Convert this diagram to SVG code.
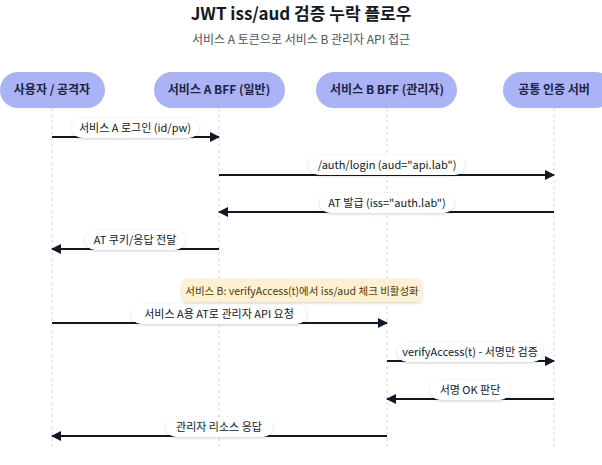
<svg xmlns="http://www.w3.org/2000/svg" width="602" height="465" viewBox="0 0 602 465">
<defs>
<marker id="ah" markerWidth="10" markerHeight="10" refX="9" refY="5" orient="auto" markerUnits="userSpaceOnUse"><path d="M0,0 L10,5 L0,10 z" fill="#111827"/></marker>
<filter id="sh" x="-20%" y="-50%" width="140%" height="200%"><feDropShadow dx="0" dy="1" stdDeviation="1.5" flood-color="#000" flood-opacity="0.18"/></filter>
<style>
text{font-family:"Noto Sans CJK KR","Noto Sans",sans-serif;}
.head rect{fill:#aab3f5;}
.head text{font-size:12px;font-weight:bold;fill:#1f2340;text-anchor:middle;}
.life{stroke:#d1d5db;stroke-dasharray:3 3;stroke-width:1;}
.msg{stroke:#111827;stroke-width:2;fill:none;marker-end:url(#ah);}
.lbl rect{fill:#fff;filter:url(#sh);}
.lbl text{font-size:11px;fill:#111827;text-anchor:middle;}
</style>
</defs>
<rect width="602" height="465" fill="#fff"/>
<text x="301" y="20" font-size="17" font-weight="bold" text-anchor="middle" fill="#111827">JWT iss/aud 검증 누락 플로우</text>
<text x="301" y="44" font-size="12" text-anchor="middle" fill="#4b5563">서비스 A 토큰으로 서비스 B 관리자 API 접근</text>
<g id="lifelines">
<line class="life" x1="52" y1="108" x2="52" y2="450"/>
<line class="life" x1="219" y1="108" x2="219" y2="450"/>
<line class="life" x1="387" y1="108" x2="387" y2="450"/>
<line class="life" x1="554" y1="108" x2="554" y2="450"/>
</g>
<g id="n1" class="head"><rect x="0" y="72" width="105" height="36" rx="18"/><text x="52" y="94">사용자 / 공격자</text></g>
<g id="n2" class="head"><rect x="154" y="72" width="131" height="36" rx="18"/><text x="219" y="94">서비스 A BFF (일반)</text></g>
<g id="n3" class="head"><rect x="316" y="72" width="141" height="36" rx="18"/><text x="387" y="94">서비스 B BFF (관리자)</text></g>
<g id="n4" class="head"><rect x="503" y="72" width="110" height="36" rx="18"/><text x="554" y="94">공통 인증 서버</text></g>
<g id="connectors">
<line class="msg" x1="52" y1="137" x2="219" y2="137"/>
<line class="msg" x1="219" y1="175" x2="554" y2="175"/>
<line class="msg" x1="554" y1="212" x2="219" y2="212"/>
<line class="msg" x1="219" y1="249" x2="52" y2="249"/>
<line class="msg" x1="52" y1="323" x2="387" y2="323"/>
<line class="msg" x1="387" y1="361" x2="554" y2="361"/>
<line class="msg" x1="554" y1="399" x2="387" y2="399"/>
<line class="msg" x1="387" y1="436" x2="52" y2="436"/>
</g>
<g id="labels" class="lbl">
<rect x="72" y="118" width="127" height="20" rx="10"/><text x="135" y="132">서비스 A 로그인 (id/pw)</text>
<rect x="309" y="155" width="156" height="20" rx="10"/><text x="387" y="169">/auth/login (aud="api.lab")</text>
<rect x="320" y="193" width="134" height="20" rx="10"/><text x="387" y="207">AT 발급 (iss="auth.lab")</text>
<rect x="85" y="230" width="100" height="20" rx="10"/><text x="135" y="244">AT 쿠키/응답 전달</text>
<rect x="131" y="304" width="176" height="20" rx="10"/><text x="219" y="318">서비스 A용 AT로 관리자 API 요청</text>
<rect x="397" y="342" width="146" height="20" rx="10"/><text x="470" y="356">verifyAccess(t) - 서명만 검증</text>
<rect x="430" y="380" width="80" height="20" rx="10"/><text x="470" y="394">서명 OK 판단</text>
<rect x="166" y="417" width="107" height="20" rx="10"/><text x="219" y="431">관리자 리소스 응답</text>
</g>
<g id="note"><rect x="182" y="279" width="240" height="23" rx="5" fill="#fdf1cf" filter="url(#sh)"/><text x="302" y="295" font-size="10.5" text-anchor="middle" fill="#4b3a12">서비스 B: verifyAccess(t)에서 iss/aud 체크 비활성화</text></g>
</svg>
